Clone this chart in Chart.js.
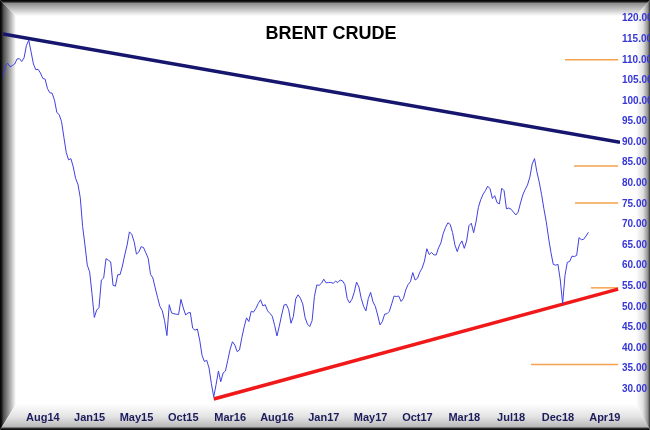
<!DOCTYPE html>
<html>
<head>
<meta charset="utf-8">
<script src="https://cdn.jsdelivr.net/npm/chart.js@4.4.0/dist/chart.umd.min.js"></script>
<style>
  html, body { margin: 0; padding: 0; background: #000; }
  #wrap { width: 650px; height: 430px; position: relative; }
</style>
</head>
<body>
<div id="wrap"><canvas id="brentChart" width="650" height="430"></canvas></div>
<script>
const chartTitle = 'BRENT CRUDE'

// x axis is in weeks from the first close, a label every 20 weeks
const tickWeeks = [17, 37, 57, 77, 97, 117, 137, 157, 177, 197, 217, 237, 257]
const tickLabels = ['Aug14', 'Jan15', 'May15', 'Oct15', 'Mar16', 'Aug16', 'Jan17',
                    'May17', 'Oct17', 'Mar18', 'Jul18', 'Dec18', 'Apr19']

// weekly closes
const brent = [
  105.9,108.5,109.2,108.3,108.6,109.0,110.2,110.3,109.6,110.5,
  113.5,114.8,111.9,109.0,107.6,107.7,106.8,105.5,105.3,103.0,
  102.0,101.9,100.2,97.2,96.7,95.0,91.2,87.5,85.7,86.0,
  84.0,81.2,79.8,76.5,69.5,65.0,60.1,58.5,53.2,47.4,
  49.2,49.8,56.5,57.0,61.7,61.3,60.9,55.2,55.0,57.8,
  57.8,59.9,62.6,65.0,68.2,67.6,65.8,62.8,63.3,64.6,
  64.4,63.1,61.8,57.9,57.0,54.6,52.3,50.1,49.1,46.6,
  43.0,50.5,48.5,48.3,48.2,48.1,51.8,49.7,48.0,48.5,
  48.6,44.8,44.3,44.6,41.9,38.2,36.7,37.0,35.1,31.3,
  28.1,31.1,34.4,31.8,33.9,34.4,37.0,39.7,41.5,40.7,
  39.1,39.5,42.5,45.1,47.3,46.4,48.9,48.7,49.6,50.8,
  51.7,50.2,50.5,49.0,48.4,47.7,45.5,42.9,45.3,48.0,
  50.4,50.6,49.3,46.0,47.6,51.9,52.9,52.1,50.7,47.4,
  45.8,45.2,46.6,52.5,55.3,55.2,55.7,56.7,55.8,55.9,
  55.9,55.7,56.2,55.9,56.5,56.3,55.4,52.0,50.9,51.8,
  53.5,56.0,54.8,52.0,50.1,49.0,52.0,53.5,51.2,50.1,
  48.0,45.6,46.4,48.2,48.3,48.9,50.7,52.6,52.5,52.6,
  51.3,52.0,54.1,55.4,56.1,58.3,56.5,56.9,58.4,59.4,
  61.1,64.1,62.7,63.2,62.6,62.6,64.3,65.5,67.8,69.3,
  70.4,70.0,68.0,65.0,63.4,65.1,66.0,64.2,66.0,69.7,
  70.3,68.0,70.6,74.1,76.0,77.3,78.2,79.3,78.7,76.3,
  77.0,75.3,75.0,78.8,78.2,73.8,74.0,73.7,73.0,72.3,
  73.0,75.2,77.2,78.5,79.6,81.5,84.7,86.0,82.8,80.3,
  77.3,73.8,70.7,66.7,63.2,60.3,60.1,60.3,56.5,50.7,
  57.6,60.8,61.0,62.3,62.2,62.5,66.8,66.3,66.4,67.2,68.1
]

// trend lines: start / end
const resistanceWeeks = [0, 263.5]
const resistance = [116.3, 90.0]
const supportWeeks = [90, 262.7]
const support = [27.6, 54.3]

// short orange levels on the right
const levels = [110.0, 84.2, 75.2, 54.6, 36.0]
const levelStarts = [240.0, 243.9, 244.3, 251.1, 225.5]
const levelEnd = 262.7

const yTicks = [30, 120]   // first and last labelled price

function poly(ctx, fill, pts){
  ctx.beginPath()
  ctx.moveTo(pts[0][0], pts[0][1])
  for (let i = 1; i < pts.length; i++) ctx.lineTo(pts[i][0], pts[i][1])
  ctx.closePath()
  ctx.fillStyle = fill
  ctx.fill()
}

// bevelled picture frame behind the plot
const framePlugin = {
  id: 'frame',
  beforeDraw(chart){
    const ctx = chart.ctx, w = chart.width, h = chart.height
    const t = 16, l = 16, r = 14, b = 26
    ctx.save()
    ctx.fillStyle = '#fff'
    ctx.fillRect(0, 0, w, h)

    let g = ctx.createLinearGradient(0, 0, 0, t)
    g.addColorStop(0, '#000'); g.addColorStop(0.12, '#222'); g.addColorStop(0.2, '#8c8c8c'); g.addColorStop(1, '#fff')
    poly(ctx, g, [[0,0],[w,0],[w-r,t],[l,t]])

    g = ctx.createLinearGradient(0, 0, l, 0)
    g.addColorStop(0, '#000'); g.addColorStop(0.12, '#1a1a1a'); g.addColorStop(0.2, '#4a4a4a'); g.addColorStop(1, '#fff')
    poly(ctx, g, [[0,0],[l,t],[l,h-b],[0,h]])

    g = ctx.createLinearGradient(0, h-b, 0, h)
    g.addColorStop(0, '#fff'); g.addColorStop(0.5, '#e2e2e2'); g.addColorStop(0.88, '#b8b8b8'); g.addColorStop(0.93, '#333'); g.addColorStop(1, '#000')
    poly(ctx, g, [[0,h],[l,h-b],[w-r,h-b],[w,h]])

    g = ctx.createLinearGradient(w-r, 0, w, 0)
    g.addColorStop(0, '#fff'); g.addColorStop(0.5, '#e0e0e0'); g.addColorStop(0.85, '#909090'); g.addColorStop(1, '#333')
    poly(ctx, g, [[w,0],[w,h],[w-r,h-b],[w-r,t]])
    ctx.restore()
  },
  afterDraw(chart){
    const ctx = chart.ctx
    ctx.save()
    ctx.font = 'bold 18px "Liberation Sans", Arial, sans-serif'
    ctx.fillStyle = '#000'
    ctx.textAlign = 'center'
    ctx.textBaseline = 'alphabetic'
    ctx.fillText(chartTitle, 331, 39)
    ctx.restore()
  }
}

const pricePoints = brent.map((v, i) => ({x: i, y: v}))
const segment = (xs, ys) => xs.map((x, i) => ({x: x, y: ys[i]}))

const datasets = [{
  label: 'Brent',
  data: pricePoints,
  borderColor: '#4141e0',
  borderWidth: 1,
  pointRadius: 0,
  tension: 0
}, {
  label: 'Resistance',
  data: segment(resistanceWeeks, resistance),
  borderColor: '#16166e',
  borderWidth: 3.5,
  pointRadius: 0
}, {
  label: 'Support',
  data: segment(supportWeeks, support),
  borderColor: '#f01818',
  borderWidth: 3.5,
  pointRadius: 0
}]

levels.forEach((lv, i) => {
  datasets.push({
    label: 'Level ' + lv,
    data: segment([levelStarts[i], levelEnd], [lv, lv]),
    borderColor: '#f4a24e',
    borderWidth: 1.5,
    pointRadius: 0
  })
})

new Chart(document.getElementById('brentChart'), {
  type: 'line',
  data: { datasets: datasets },
  options: {
    responsive: false,
    animation: false,
    events: [],
    layout: { padding: { left: 3, top: 15, right: 0, bottom: 0 } },
    plugins: { legend: { display: false }, tooltip: { enabled: false } },
    scales: {
      x: {
        type: 'linear',
        min: 0,
        max: 263.5,
        grid: { display: false, drawTicks: false },
        border: { display: false },
        afterFit: (s) => { s.height = 29 },
        afterBuildTicks: (s) => { s.ticks = tickWeeks.map(v => ({value: v})) },
        ticks: {
          autoSkip: false,
          maxRotation: 0,
          padding: 10,
          color: '#1c1c5c',
          font: { family: '"Liberation Sans", Arial, sans-serif', size: 11, weight: 'bold' },
          callback: (v) => tickLabels[tickWeeks.indexOf(v)]
        }
      },
      y: {
        position: 'right',
        min: 27.1,
        max: 120.9,
        grid: { display: false, drawTicks: false },
        border: { display: false },
        afterFit: (s) => { s.width = 30 },
        ticks: {
          stepSize: 5,
          includeBounds: false,
          padding: 2,
          color: '#3535d8',
          font: { family: '"Liberation Sans", Arial, sans-serif', size: 10, weight: 'bold' },
          callback: (v) => (v >= yTicks[0] && v <= yTicks[1]) ? v.toFixed(2) : ''
        }
      }
    }
  },
  plugins: [framePlugin]
})
</script>
</body>
</html>
